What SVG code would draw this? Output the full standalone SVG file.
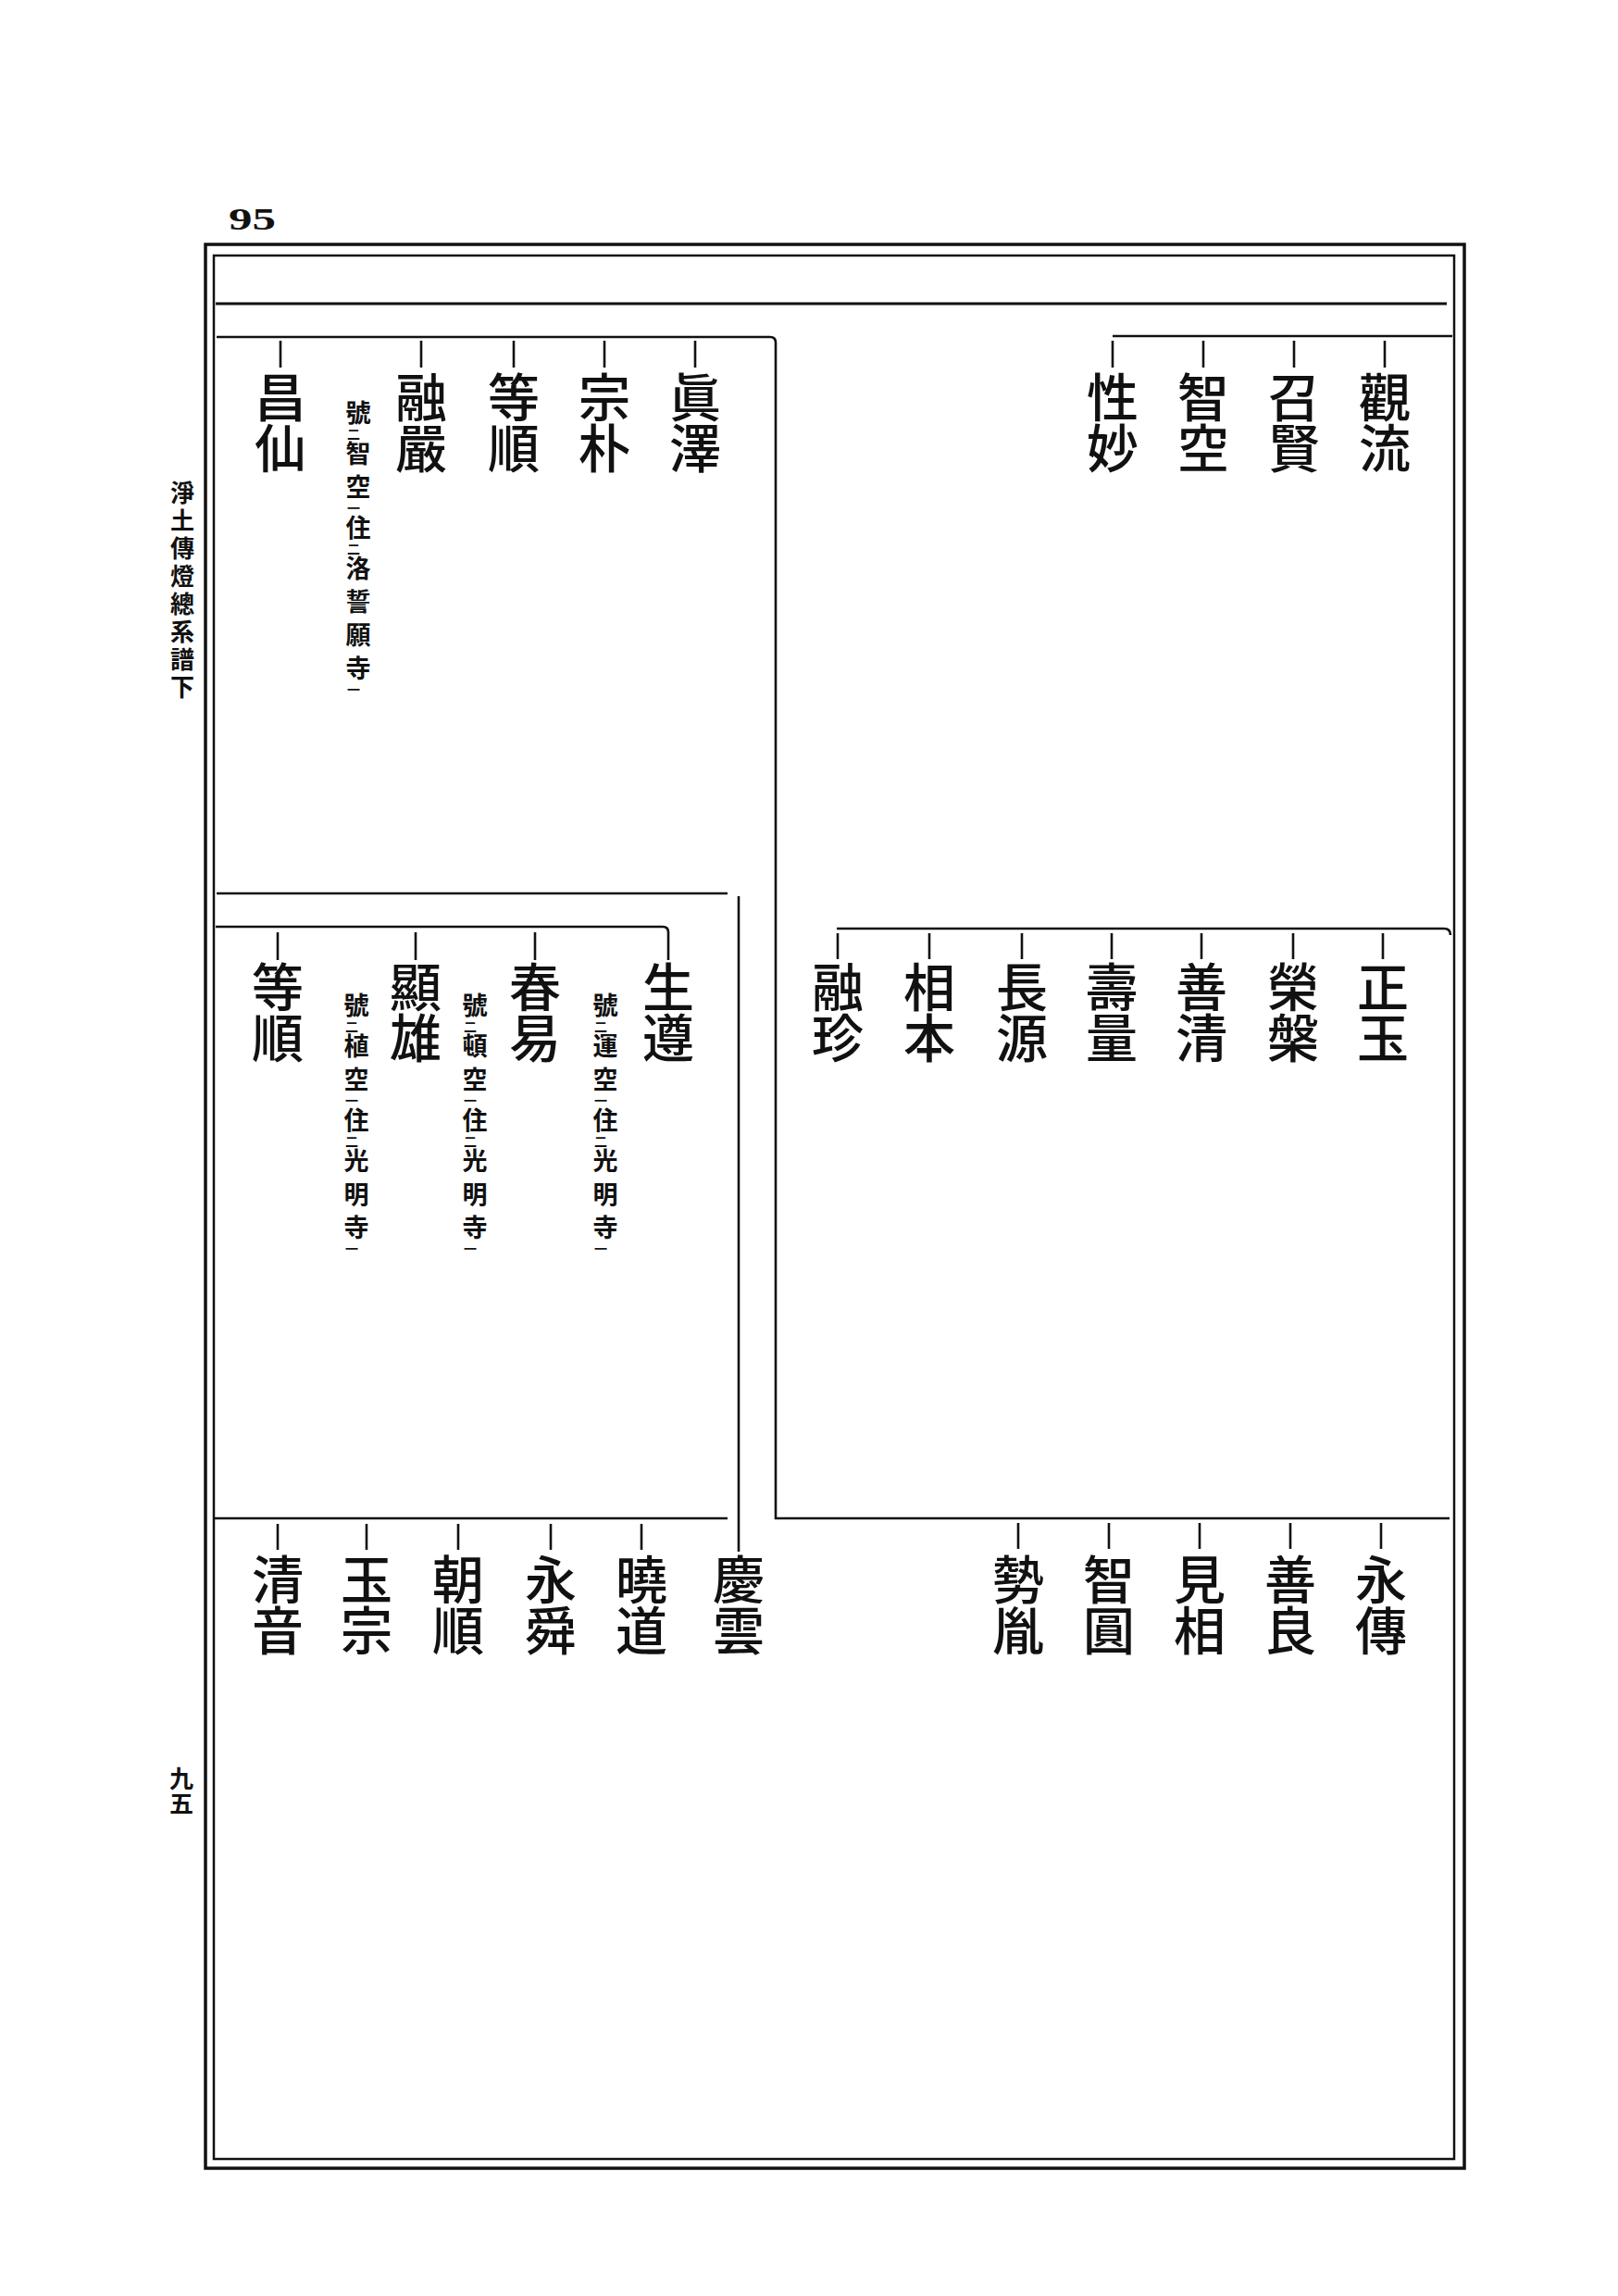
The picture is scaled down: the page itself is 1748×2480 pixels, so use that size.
<svg xmlns="http://www.w3.org/2000/svg" width="1748" height="2480" viewBox="0 0 1748 2480">
<style>
text{font-family:"Noto Sans CJK JP","Noto Sans CJK TC",sans-serif;fill:#111}
.v{writing-mode:vertical-rl;text-anchor:start}
.n{font-size:56px;font-weight:500;letter-spacing:-1px}
.a{font-size:27px;font-weight:700}
.m{font-size:14px}
.cs{letter-spacing:9px}
.ms{letter-spacing:1.5px}
.s{font-size:26px;font-weight:700}
.c{stroke:#111;stroke-width:2.6;fill:none}
</style>
<rect width="1748" height="2480" fill="#fff"/>
<g id="frame" fill="none" stroke="#111">
<rect x="222" y="264" width="1360" height="2078" stroke-width="3.5"/>
<rect x="231" y="276" width="1340" height="2056" stroke-width="2.5"/>
<path d="M233,328 H1563" stroke-width="3"/>
</g>
<text x="247" y="248" style="font-family:'Liberation Serif',serif;font-size:34px;font-weight:700" textLength="51" lengthAdjust="spacingAndGlyphs">95</text>
<g id="side-title"><text class="v s" x="197" y="519" style="letter-spacing:4px">淨土傳燈總系譜下</text></g>
<g id="page-no"><text class="v s" x="196" y="1908" style="letter-spacing:1px">九五</text></g>
<g id="connectors" class="c">
<path d="M1202,363 H1569"/>
<path d="M1496,368 V397 M1398,368 V397 M1300,368 V397 M1202,368 V397"/>
<path d="M234,364 H832 Q838,364 838,370 V1640 H1566"/>
<path d="M751,368 V397 M653,368 V397 M555,368 V397 M455,368 V397 M303,368 V397"/>
<path d="M904,1003 H1560 Q1567,1003 1567,1010"/>
<path d="M1494,1008 V1036 M1397,1008 V1036 M1298,1008 V1036 M1201,1008 V1036 M1104,1008 V1036 M1004,1008 V1036 M905,1008 V1036"/>
<path d="M234,965 H786"/>
<path d="M798,968 V1676"/>
<path d="M233,1001 H716 Q722,1001 722,1007 V1037"/>
<path d="M578,1007 V1037 M449,1007 V1037 M300,1007 V1037"/>
<path d="M231,1640 H786"/>
<path d="M693,1646 V1674 M595,1646 V1674 M495,1646 V1674 M396,1646 V1674 M300,1646 V1674"/>
<path d="M1492,1645 V1673 M1394,1645 V1673 M1296,1645 V1673 M1198,1645 V1673 M1100,1645 V1673"/>
</g>
<g id="n-kanryu"><text class="v n" x="1496" y="401">觀流</text></g>
<g id="n-shoken"><text class="v n" x="1398" y="401">召賢</text></g>
<g id="n-chiku"><text class="v n" x="1300" y="401">智空</text></g>
<g id="n-shomyo"><text class="v n" x="1202" y="401">性妙</text></g>
<g id="n-shintaku"><text class="v n" x="751" y="401">眞澤</text></g>
<g id="n-soboku"><text class="v n" x="653" y="401">宗朴</text></g>
<g id="n-tojun1"><text class="v n" x="555" y="401">等順</text></g>
<g id="n-yugon"><text class="v n" x="455" y="401">融嚴</text>
<text class="v a" x="387" y="432.5"><tspan class="ms">號</tspan><tspan class="m ms" dx="-5">二</tspan><tspan class="cs" dx="5">智</tspan><tspan class="ms">空</tspan><tspan class="m ms" dx="-5">一</tspan><tspan class="ms" dx="5">住</tspan><tspan class="m ms" dx="-5">二</tspan><tspan class="cs" dx="5">洛誓願</tspan><tspan class="ms">寺</tspan><tspan class="m" dx="-5">一</tspan></text>
</g>
<g id="n-shosen"><text class="v n" x="303" y="401">昌仙</text></g>
<g id="n-shogyoku"><text class="v n" x="1494" y="1038">正玉</text></g>
<g id="n-eihan"><text class="v n" x="1397" y="1038">榮槃</text></g>
<g id="n-zensei"><text class="v n" x="1298" y="1038">善清</text></g>
<g id="n-juryo"><text class="v n" x="1201" y="1038">壽量</text></g>
<g id="n-chogen"><text class="v n" x="1104" y="1038">長源</text></g>
<g id="n-sohon"><text class="v n" x="1004" y="1038">相本</text></g>
<g id="n-yuchin"><text class="v n" x="905" y="1038">融珍</text></g>
<g id="n-shojun"><text class="v n" x="722" y="1038">生遵</text>
<text class="v a" x="654" y="1072.5"><tspan class="ms">號</tspan><tspan class="m ms" dx="-5">二</tspan><tspan class="cs" dx="5">運</tspan><tspan class="ms">空</tspan><tspan class="m ms" dx="-5">一</tspan><tspan class="ms" dx="5">住</tspan><tspan class="m ms" dx="-5">二</tspan><tspan class="cs" dx="5">光明</tspan><tspan class="ms">寺</tspan><tspan class="m" dx="-5">一</tspan></text>
</g>
<g id="n-shunyaku"><text class="v n" x="578" y="1038">春易</text>
<text class="v a" x="513" y="1072.5"><tspan class="ms">號</tspan><tspan class="m ms" dx="-5">二</tspan><tspan class="cs" dx="5">頓</tspan><tspan class="ms">空</tspan><tspan class="m ms" dx="-5">一</tspan><tspan class="ms" dx="5">住</tspan><tspan class="m ms" dx="-5">二</tspan><tspan class="cs" dx="5">光明</tspan><tspan class="ms">寺</tspan><tspan class="m" dx="-5">一</tspan></text>
</g>
<g id="n-kenyu"><text class="v n" x="449" y="1038">顯雄</text>
<text class="v a" x="385" y="1072.5"><tspan class="ms">號</tspan><tspan class="m ms" dx="-5">二</tspan><tspan class="cs" dx="5">植</tspan><tspan class="ms">空</tspan><tspan class="m ms" dx="-5">一</tspan><tspan class="ms" dx="5">住</tspan><tspan class="m ms" dx="-5">二</tspan><tspan class="cs" dx="5">光明</tspan><tspan class="ms">寺</tspan><tspan class="m" dx="-5">一</tspan></text>
</g>
<g id="n-tojun2"><text class="v n" x="300" y="1038">等順</text></g>
<g id="n-keiun"><text class="v n" x="798" y="1678">慶雲</text></g>
<g id="n-gyodo"><text class="v n" x="693" y="1678">曉道</text></g>
<g id="n-eishun"><text class="v n" x="595" y="1678">永舜</text></g>
<g id="n-chojun"><text class="v n" x="495" y="1678">朝順</text></g>
<g id="n-gyokushu"><text class="v n" x="396" y="1678">玉宗</text></g>
<g id="n-seion"><text class="v n" x="300" y="1678">清音</text></g>
<g id="n-eiden"><text class="v n" x="1492" y="1678">永傳</text></g>
<g id="n-zenryo"><text class="v n" x="1394" y="1678">善良</text></g>
<g id="n-kenso"><text class="v n" x="1296" y="1678">見相</text></g>
<g id="n-chien"><text class="v n" x="1198" y="1678">智圓</text></g>
<g id="n-seiin"><text class="v n" x="1100" y="1678">勢胤</text></g>
</svg>
